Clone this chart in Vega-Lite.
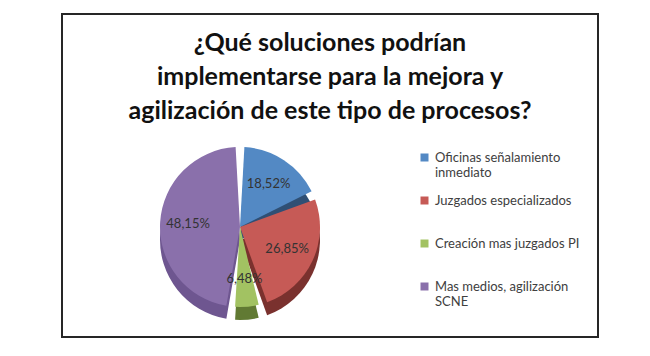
{
  "$schema": "https://vega.github.io/schema/vega-lite/v6.json",
  "autosize": "none",
  "width": 536,
  "height": 323,
  "padding": {"left": 62, "top": 14, "right": 52, "bottom": 19},
  "background": "white",
  "view": {"stroke": "#262626", "strokeWidth": 2, "fill": "white"},
  "config": {
    "font": "Lato"
  },
  "title": {
    "text": ["¿Qué soluciones podrían", "implementarse para la mejora y", "agilización de este tipo de procesos?"],
    "anchor": "middle",
    "baseline": "top",
    "offset": 0,
    "dy": 110,
    "font": "Lato",
    "fontSize": 25,
    "fontWeight": "bold",
    "lineHeight": 34,
    "color": "#111111"
  },
  "data": {
    "values": [
      {"idx": 1, "cat": "Oficinas señalamiento|inmediato", "pct": 18.52, "label": "18,52%"},
      {"idx": 2, "cat": "Juzgados especializados", "pct": 26.85, "label": "26,85%"},
      {"idx": 3, "cat": "Creación mas juzgados PI", "pct": 6.48, "label": "6,48%"},
      {"idx": 4, "cat": "Mas medios, agilización|SCNE", "pct": 48.15, "label": "48,15%"}
    ]
  },
  "layer": [
    {
      "mark": {"type": "arc", "x": 178, "y": 226, "outerRadius": 80, "padAngle": 0.11},
      "encoding": {
        "theta": {"field": "pct", "type": "quantitative", "stack": true},
        "order": {"field": "idx", "type": "quantitative"},
        "color": {
          "field": "cat", "type": "nominal", "legend": null,
          "scale": {"domain": ["Oficinas señalamiento|inmediato", "Juzgados especializados", "Creación mas juzgados PI", "Mas medios, agilización|SCNE"],
                    "range": ["#2f4f74", "#7a312e", "#617a33", "#6e5690"]}
        }
      }
    },
    {
      "mark": {"type": "arc", "x": 178, "y": 213, "outerRadius": 80, "padAngle": 0.11},
      "encoding": {
        "theta": {"field": "pct", "type": "quantitative", "stack": true},
        "order": {"field": "idx", "type": "quantitative"},
        "color": {
          "field": "cat", "type": "nominal",
          "scale": {"domain": ["Oficinas señalamiento|inmediato", "Juzgados especializados", "Creación mas juzgados PI", "Mas medios, agilización|SCNE"],
                    "range": ["#5389c4", "#c65a56", "#a2c262", "#8a70ab"]},
          "legend": {
            "orient": "none",
            "legendX": 356,
            "legendY": 137,
            "title": null,
            "symbolType": "square",
            "symbolSize": 64,
            "symbolStrokeWidth": 0,
            "labelFont": "Lato",
            "labelFontSize": 13,
            "labelColor": "#404040",
            "labelOffset": 4,
            "labelLimit": 200,
            "rowPadding": 14,
            "gridAlign": "all",
            "labelExpr": "split(datum.label, '|')"
          }
        }
      }
    },
    {
      "mark": {"type": "text", "x": 178, "y": 213, "radius": 52, "font": "Lato", "fontSize": 13, "color": "#333333"},
      "encoding": {
        "theta": {"field": "pct", "type": "quantitative", "stack": true},
        "order": {"field": "idx", "type": "quantitative"},
        "text": {"field": "label", "type": "nominal"}
      }
    }
  ],
  "resolve": {"scale": {"color": "independent"}}
}
